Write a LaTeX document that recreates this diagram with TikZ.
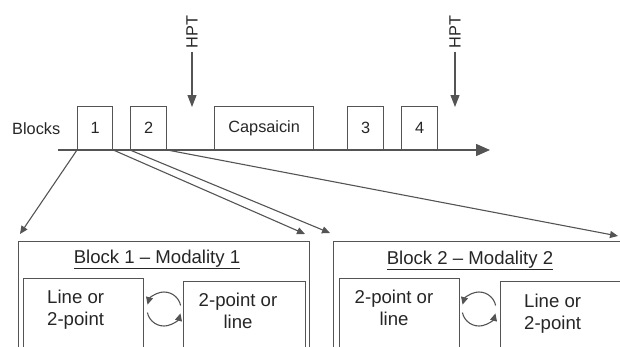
\documentclass[tikz,border=0pt]{standalone}
\usepackage{fontspec}
\setmainfont{Liberation Sans}
\usetikzlibrary{arrows.meta}
\definecolor{linegray}{gray}{0.33}
\tikzset{
   every node/.style={text=black!85, inner sep=0pt},
   topfont/.style={font=\fontsize{16.3}{19}\selectfont},
   lowfont/.style={font=\fontsize{18.6}{22}\selectfont},
   blk/.style={draw=linegray, line width=1.3pt, minimum height=43pt,
      anchor=south west, topfont},
   frame/.style={draw=linegray, line width=1.4pt, anchor=north west,
      minimum height=140pt},
   inbox/.style={draw=linegray, line width=1.3pt, anchor=north west,
      minimum height=90pt},
   link/.style={draw=linegray, line width=1.1pt,
      -{Triangle[length=8pt,width=7pt]}},
   hpt/.style={draw=linegray, line width=1.2pt,
      -{Triangle[length=12pt,width=9pt]}},
   swap/.style={draw=linegray, line width=1.1pt,
      -{Triangle[length=7.5pt,width=7pt]}},
    }

\begin{document}
\begin{tikzpicture}[x=1pt,y=-1pt]
   \useasboundingbox (0,0) rectangle (620,346);
   \clip (0,0) rectangle (620,346);

   \coordinate (t0) at (58,150);
   \coordinate (t1) at (490,150);
   \draw[draw=linegray, line width=1.5pt, -{Triangle[length=14pt,width=12pt]}] (t0) -- (t1);

   \node[topfont, anchor=base west] (lbl) at (12,134) {Blocks};
   \node[blk, minimum width=35pt] (b1) at (77,150) {1};
   \node[blk, minimum width=36pt] (b2) at (130,150) {2};
   \node[blk, minimum width=99pt] (cap) at (214,150) {Capsaicin};
   \node[blk, minimum width=36pt] (b3) at (347,150) {3};
   \node[blk, minimum width=36pt] (b4) at (401,150) {4};

   \node[topfont, rotate=90] (h1) at (192,32) {HPT};
   \node[topfont, rotate=90] (h2) at (455,32) {HPT};
   \coordinate (p1) at (192,107);
   \coordinate (p2) at (455,107);
   \draw[hpt] ([yshift=-3pt]h1.west) -- (p1);
   \draw[hpt] ([yshift=-3pt]h2.west) -- (p2);

   \node[frame, minimum width=291pt] (m1) at (18,241) {};
   \node[frame, minimum width=300pt] (m2) at (333,241) {};
   \node[lowfont, anchor=base] (m1t) at (157,263) {\underline{Block 1 -- Modality 1}};
   \node[lowfont, anchor=base] (m2t) at (470,264) {\underline{Block 2 -- Modality 2}};

   \node[inbox, minimum width=120pt] (i1) at (23,278) {};
   \node[inbox, minimum width=122pt] (i2) at (183,281) {};
   \node[inbox, minimum width=120pt] (j1) at (339,278) {};
   \node[inbox, minimum width=130pt] (j2) at (500,281) {};
   \node[lowfont, align=left, anchor=north west] (i1t) at (47,290) {Line or\\2-point};
   \node[lowfont, align=center, anchor=north] (i2t) at (238,293) {2-point or\\line};
   \node[lowfont, align=center, anchor=north] (j1t) at (394,290) {2-point or\\line};
   \node[lowfont, align=left, anchor=north west] (j2t) at (524,294) {Line or\\2-point};

   \coordinate (c1) at (164,309);
   \coordinate (c2) at (479,309);
   \draw[swap] ([shift={(-12:17)}]c1) arc[start angle=-12, end angle=-165, radius=17];
   \draw[swap] ([shift={(168:17)}]c1) arc[start angle=168, end angle=15, radius=17];
   \draw[swap] ([shift={(-12:17)}]c2) arc[start angle=-12, end angle=-165, radius=17];
   \draw[swap] ([shift={(168:17)}]c2) arc[start angle=168, end angle=15, radius=17];

   \coordinate (a1) at (20,234);
   \coordinate (a2) at (305,234);
   \coordinate (a3) at (330,233);
   \coordinate (a4) at (618,236);
   \draw[link] (b1.south west) -- (a1);
   \draw[link] (b1.south east) -- (a2);
   \draw[link] (b2.south west) -- (a3);
   \draw[link] (b2.south east) -- (a4);
\end{tikzpicture}
\end{document}
